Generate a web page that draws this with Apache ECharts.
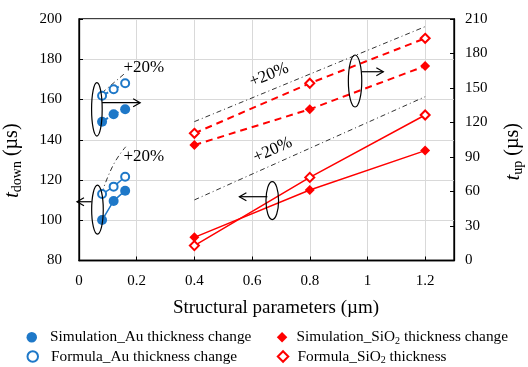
<!DOCTYPE html>
<html><head><meta charset="utf-8">
<script src="https://cdn.jsdelivr.net/npm/echarts@6/dist/echarts.min.js"></script>
<style>html,body{margin:0;padding:0;background:#fff}#c{width:528px;height:367px}</style>
</head><body><div id="c"></div>
<script>
// ---- data ----
const xTicks = ['0', '0.2', '0.4', '0.6', '0.8', '1', '1.2'];
const auX = [0.08, 0.12, 0.16];
const auSimUp = [120.7, 127.1, 131.5];     // t_up (right axis)
const auFormUp = [143.3, 148.9, 154.1];    // t_up (right axis)
const auSimDown = [100.1, 109.6, 114.7];   // t_down (left axis)
const auFormDown = [113.0, 116.7, 121.6];  // t_down (left axis)
const sioX = [0.4, 0.8, 1.2];
const sioSimDown = [91.5, 115.0, 134.6];   // t_down (left axis)
const sioFormDown = [87.4, 121.3, 152.3];  // t_down (left axis)
const sioSimUp = [100.4, 131.5, 169.1];    // t_up (right axis)
const sioFormUp = [110.6, 154.1, 193.2];   // t_up (right axis)
// "+20%" guide lines (left-axis units)
const guideAuUpX = [0.079, 0.159], guideAuUp = [163.2, 173.0];
const guideAuDownX = [0.079, 0.119, 0.162], guideAuDown = [113.4, 127.5, 136.5];
const guideSioX = [0.4, 1.2], guideSioUp = [149.0, 196.2], guideSioDown = [110.1, 161.4];
// annotations (data coords on x / left axis)
const ellipseCenters = [[0.062, 155.1], [0.064, 105.3], [0.957, 169.2], [0.670, 109.8]];
const ellipseRadii = [[5.3, 26.7], [5.8, 24.5], [6.7, 26], [6.3, 19]];
const arrowFrom = [[0.08, 158.4], [0.044, 109.2], [0.98, 173.8], [0.653, 111.7]];
const arrowTo = [[0.212, 158.4], [-0.007, 109.2], [1.055, 173.8], [0.556, 111.7]];
const pctLabelPos = [[0.225, 175.9], [0.225, 131.6], [0.659, 172.2], [0.672, 134.9]];
const pctLabelRot = [0, 0, 22, 24];
const pctText = '+20%';
const names = ['Simulation_Au thickness change', 'Formula_Au thickness change',
               'Simulation_SiO2 thickness change', 'Formula_SiO2 thickness'];

const BLUE = '#1e78c8', RED = '#ff0000', SERIF = 'Liberation Serif';
const zip = (xs, ys) => xs.map((x, i) => [x, ys[i]]);

const chart = echarts.init(document.getElementById('c'), null, {renderer: 'canvas'});

function ptSeries(name, xs, ys, yAxis, color, symbol, size, dashed, filled) {
  return {
    name, type: 'line', xAxisIndex: 0, yAxisIndex: yAxis, data: zip(xs, ys),
    symbol, symbolSize: size, showSymbol: true,
    itemStyle: {color: color, borderColor: color, borderWidth: filled ? 0 : 1.4},
    lineStyle: {color, width: dashed ? 2 : 1.5, type: dashed ? [7, 5] : 'solid'},
    emphasis: {disabled: true}, z: 3
  };
}
function guide(xs, ys, smooth) {
  return {
    name: 'guide', type: 'line', data: zip(xs, ys), yAxisIndex: 0, symbol: 'none', smooth: !!smooth,
    lineStyle: {color: '#333', width: 1, type: [5, 3, 1, 3]}, emphasis: {disabled: true}, z: 2
  };
}

const rich = {
  n: {fontFamily: SERIF, fontSize: 15.3, color: '#000', lineHeight: 18},
  s: {fontFamily: SERIF, fontSize: 10, color: '#000', lineHeight: 10, verticalAlign: 'bottom'}
};
const legendFmt = name => {
  if (name.indexOf('SiO2') >= 0) {
    const p = name.split('SiO2');
    return '{n|' + p[0] + 'SiO}{s|2}{n|' + p[1] + '}';
  }
  return '{n|' + name + '}';
};
function leg(name, icon, left, top, pad) {
  const d = {name, icon};
  if (icon.indexOf('empty') === 0) d.itemStyle = {borderWidth: 1.5};
  return {orient: 'horizontal', left, top, padding: 0, itemWidth: 10.5, itemHeight: 10.5,
    data: [d], formatter: legendFmt, textStyle: {padding: [0, 0, 0, pad], rich}, selectedMode: false};
}

const option = {
  animation: false,
  backgroundColor: '#fff',
  grid: {left: 79, right: 74, top: 19, bottom: 106.5, show: true, borderColor: '#000', borderWidth: 1.3,
    outerBoundsMode: 'none', containLabel: false},
  xAxis: {
    type: 'value', min: 0, max: 1.3, interval: 0.2,
    name: 'Structural parameters (\u00b5m)', nameLocation: 'middle', nameGap: 38,
    nameTextStyle: {fontFamily: SERIF, fontSize: 19, color: '#000', padding: [0, 0, 0, 19]},
    axisLine: {lineStyle: {color: '#000', width: 1.3}},
    axisTick: {inside: true, length: 4, lineStyle: {color: '#000'}},
    axisLabel: {fontFamily: SERIF, fontSize: 15, color: '#000', margin: 13, showMaxLabel: false,
      formatter: v => { const i = Math.round(v / 0.2); return Math.abs(v - i * 0.2) < 1e-6 ? (xTicks[i] || '') : ''; }},
    splitLine: {show: true, lineStyle: {color: '#d9d9d9', width: 1}}
  },
  yAxis: [{
    type: 'value', min: 80, max: 200, interval: 20, position: 'left',
    name: '{t|t}{s|down}{n| (\u00b5s)}', nameLocation: 'middle', nameGap: 55, nameRotate: 90,
    nameTextStyle: {padding: [0, 42, 0, 0], rich: {
      t: {fontFamily: SERIF, fontSize: 21, fontStyle: 'italic', color: '#000', lineHeight: 24},
      s: {fontFamily: SERIF, fontSize: 14, color: '#000', lineHeight: 14, verticalAlign: 'bottom'},
      n: {fontFamily: SERIF, fontSize: 20, color: '#000', lineHeight: 24}}},
    axisLine: {show: true, lineStyle: {color: '#000', width: 1.3}},
    axisTick: {show: true, inside: true, length: 4, lineStyle: {color: '#000'}},
    axisLabel: {fontFamily: SERIF, fontSize: 15, color: '#000', margin: 17},
    splitLine: {show: true, lineStyle: {color: '#d9d9d9', width: 1}}
  }, {
    type: 'value', min: 0, max: 210, interval: 30, position: 'right',
    name: '{t|t}{s|up}{n| (\u00b5s)}', nameLocation: 'middle', nameGap: 47, nameRotate: 90,
    nameTextStyle: {padding: [0, 24, 0, 0], rich: {
      t: {fontFamily: SERIF, fontSize: 21, fontStyle: 'italic', color: '#000', lineHeight: 24},
      s: {fontFamily: SERIF, fontSize: 14, color: '#000', lineHeight: 14, verticalAlign: 'bottom'},
      n: {fontFamily: SERIF, fontSize: 20, color: '#000', lineHeight: 24}}},
    axisLine: {show: true, lineStyle: {color: '#000', width: 1.3}},
    axisTick: {show: true, inside: true, length: 4, lineStyle: {color: '#000'}},
    axisLabel: {fontFamily: SERIF, fontSize: 15, color: '#000', margin: 11},
    splitLine: {show: false}
  }],
  legend: [
    leg(names[0], 'circle', 26.5, 329.7, 8),
    leg(names[1], 'emptyCircle', 26.5, 349, 8),
    leg(names[2], 'diamond', 276.8, 329.7, 4.2),
    leg(names[3], 'emptyDiamond', 276.8, 349, 4.2)
  ],
  series: [
    guide(guideAuUpX, guideAuUp), guide(guideAuDownX, guideAuDown, true),
    guide(guideSioX, guideSioUp), guide(guideSioX, guideSioDown),
    ptSeries(names[0], auX, auSimUp, 1, BLUE, 'circle', 10, true, true),
    ptSeries(names[1], auX, auFormUp, 1, BLUE, 'emptyCircle', 8, true, false),
    ptSeries(names[0], auX, auSimDown, 0, BLUE, 'circle', 10, false, true),
    ptSeries(names[1], auX, auFormDown, 0, BLUE, 'emptyCircle', 8, false, false),
    ptSeries(names[2], sioX, sioSimUp, 1, RED, 'diamond', 10, true, true),
    ptSeries(names[3], sioX, sioFormUp, 1, RED, 'emptyDiamond', 9, true, false),
    ptSeries(names[2], sioX, sioSimDown, 0, RED, 'diamond', 10, false, true),
    ptSeries(names[3], sioX, sioFormDown, 0, RED, 'emptyDiamond', 9, false, false)
  ]
};
chart.setOption(option);

// annotations positioned through the axes
const px = p => chart.convertToPixel({xAxisIndex: 0, yAxisIndex: 0}, p);
const graphics = [];
ellipseCenters.forEach((c, i) => {
  const p = px(c);
  graphics.push({type: 'ellipse', shape: {cx: p[0], cy: p[1], rx: ellipseRadii[i][0], ry: ellipseRadii[i][1]},
    style: {fill: null, stroke: '#000', lineWidth: 1.2}, z: 10});
});
arrowFrom.forEach((f, i) => {
  const a = px(f), b = px(arrowTo[i]);
  const dir = Math.sign(b[0] - a[0]);
  graphics.push({type: 'line', shape: {x1: a[0], y1: a[1], x2: b[0], y2: b[1]}, style: {stroke: '#000', lineWidth: 1.2}, z: 10});
  graphics.push({type: 'polyline', shape: {points: [[b[0] - dir * 7, b[1] - 4], [b[0], b[1]], [b[0] - dir * 7, b[1] + 4]]},
    style: {stroke: '#000', lineWidth: 1.2, fill: null}, z: 10});
});
pctLabelPos.forEach((c, i) => {
  const p = px(c);
  graphics.push({type: 'text', x: p[0], y: p[1], rotation: pctLabelRot[i] * Math.PI / 180,
    style: {text: pctText, font: '17px "Liberation Serif"', fill: '#000', align: 'center', verticalAlign: 'middle'}, z: 10});
});
chart.setOption({graphic: graphics});
</script></body></html>
